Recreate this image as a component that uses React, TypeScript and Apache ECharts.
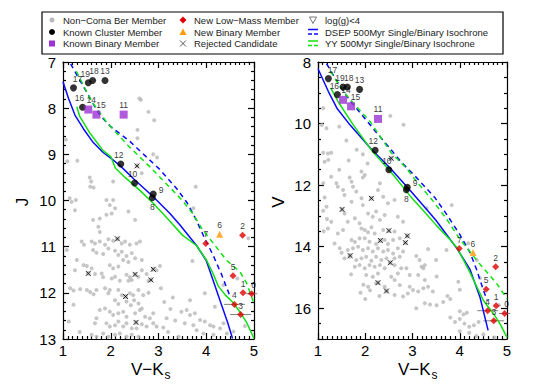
import { useEffect, useRef } from 'react';
import * as echarts from 'echarts';

// ---------- data ----------
const knownIds = ['17', '19', '18', '13', '16', '12', '10', '9', '8'];
const knownVK = [1.22, 1.53, 1.62, 1.88, 1.41, 2.21, 2.5, 2.89, 2.87];
const knownJ = [7.56, 7.45, 7.4, 7.4, 7.98, 9.21, 9.62, 9.86, 9.94];
const knownV = [8.54, 8.81, 8.81, 8.89, 9.06, 10.87, 11.5, 12.07, 12.15];

const binIds = ['14', '15', '11'];
const binVK = [1.53, 1.7, 2.27];
const binJ = [8.03, 8.14, 8.14];
const binV = [9.23, 9.44, 9.85];

const newIds = ['7', '2', '5', '1', '0', '4', '3'];
const newVK = [3.99, 4.76, 4.56, 4.77, 4.95, 4.59, 4.72];
const newJ = [10.93, 10.75, 11.63, 12.0, 12.02, 12.25, 12.47];
const newV = [14.06, 14.65, 15.38, 15.92, 16.17, 16.08, 16.41];
const newErrVK = [0, 0, 0, 0, 0.12, 0.22, 0.22];

const newBinIds = ['6'];
const newBinVK = [4.28];
const newBinJ = [10.73];
const newBinV = [14.19];

const rejectedLeft = [
  [2.55, 9.25], [2.14, 10.83], [1.53, 11.58], [2.51, 11.6], [2.89, 11.49], [2.84, 11.72], [2.31, 12.08], [2.53, 12.64],
];
const rejectedRight = [
  [2.55, 11.13], [2.13, 12.43], [1.51, 12.79], [2.5, 13.48], [2.89, 13.65], [2.32, 13.8], [2.85, 13.87],
  [1.68, 14.29], [2.53, 14.52], [2.27, 15.17], [2.45, 15.44],
];

const grayLeft = [
  [2.6, 7.79], [2.63, 7.82], [2.79, 8.08], [2.91, 8.26], [2.56, 8.47], [2.56, 8.65], [2.89, 9.0], [2.97, 9.07], [2.65, 9.41], [3.78, 9.7], [3.73, 10.17],
  [1.06, 8.68], [1.09, 9.15], [1.3, 9.14], [1.14, 9.95], [1.27, 9.99], [1.56, 9.5],
  [1.59, 9.59], [1.57, 9.7], [1.64, 9.72], [2.05, 9.59],
  [1.18, 10.03], [1.25, 10.21], [1.91, 9.99], [1.98, 10.1], [2.05, 9.99], [2.09, 10.17], [2.02, 10.28], [1.91, 10.31],
  [1.63, 10.42], [1.77, 10.39], [2.37, 10.24], [2.51, 10.42], [1.74, 10.57], [1.77, 10.68],
  [1.39, 10.89], [1.44, 10.96], [1.6, 10.89], [1.67, 10.93], [1.77, 10.89], [1.88, 10.96], [1.95, 10.84], [2.05, 10.87],
  [2.23, 10.93], [2.3, 10.89], [2.4, 10.96], [2.54, 10.93], [2.61, 10.89],
  [1.08, 11.07], [1.63, 11.07], [1.7, 11.13], [1.84, 11.16], [1.95, 11.04], [2.09, 11.09],
  [2.16, 11.18], [2.23, 11.11], [2.33, 11.2], [2.44, 11.14], [2.26, 11.29], [2.37, 11.33], [2.51, 11.25], [2.65, 11.29],
  [1.29, 11.29], [1.25, 11.51], [1.43, 11.4], [1.5, 11.42], [1.6, 11.47],
  [1.98, 11.4], [2.05, 11.47], [2.16, 11.43], [1.67, 11.59], [1.81, 11.58], [1.84, 11.66],
  [2.02, 11.69], [2.09, 11.65], [2.19, 11.74], [2.33, 11.61], [2.4, 11.66], [2.37, 11.74], [2.44, 11.72], [2.58, 11.65],
  [2.65, 11.51], [2.75, 11.59], [2.79, 11.74], [2.96, 11.51], [3.03, 11.42],
  [1.15, 11.9], [1.22, 11.95], [1.36, 11.92], [1.5, 11.94], [1.57, 11.98], [1.64, 12.03], [1.7, 11.94],
  [1.88, 11.9], [1.95, 12.01], [1.98, 11.94], [2.16, 11.94], [2.23, 12.05], [2.4, 12.01], [2.47, 12.05], [2.58, 11.94], [2.68, 12.05], [2.79, 12.0],
  [2.09, 12.16], [2.16, 12.24], [2.33, 12.19], [2.42, 12.27], [2.49, 12.16], [2.58, 12.23], [2.65, 12.34], [1.22, 12.26],
  [1.77, 12.37], [1.88, 12.34], [1.98, 12.41], [2.05, 12.48], [2.16, 12.44], [2.26, 12.41], [2.33, 12.52],
  [2.51, 12.44], [2.61, 12.37], [2.72, 12.52], [2.82, 12.55], [2.89, 12.44], [1.7, 12.55], [1.67, 12.66],
  [1.91, 12.66], [1.98, 12.73], [2.09, 12.7], [2.16, 12.62], [2.26, 12.73], [2.33, 12.66], [2.44, 12.77],
  [2.54, 12.77], [2.65, 12.68], [2.75, 12.73], [2.89, 12.66], [2.96, 12.73],
  [1.6, 12.91], [1.7, 12.95], [1.84, 12.88], [1.95, 12.95], [2.09, 12.91], [2.19, 12.88], [2.33, 12.95], [2.44, 12.91], [2.58, 12.95],
  [3.05, 11.9], [3.12, 12.2], [3.25, 12.35], [3.35, 12.6], [3.2, 12.85], [3.42, 12.95], [3.1, 12.75], [3.3, 12.1], [3.17, 12.55],
  [4.88, 10.82], [3.71, 11.31], [4.65, 11.69], [4.36, 11.83], [3.66, 12.16], [3.97, 12.01],
  [3.48, 12.41], [3.59, 12.37], [3.66, 12.48], [3.76, 12.44], [3.87, 12.59], [3.97, 12.62], [4.08, 12.7], [4.15, 12.73], [4.29, 12.77],
  [4.43, 12.88], [4.57, 12.84], [3.55, 12.66], [3.73, 12.7], [3.8, 12.81], [3.94, 12.88], [4.15, 12.91], [4.36, 12.66], [4.81, 12.72], [4.18, 12.3],
  [1.12, 12.62], [1.35, 12.85],
];

const grayRight = [
  [2.53, 9.75], [2.81, 10.04], [1.11, 9.5], [1.08, 10.05], [1.18, 10.15], [1.45, 10.1], [1.6, 10.55], [1.82, 10.85], [1.95, 11.0], [2.05, 11.3], [1.65, 11.2], [1.45, 11.5],
  [1.11, 10.95], [1.22, 11.18], [1.11, 11.94], [1.14, 12.4], [1.18, 12.7], [1.19, 13.1],
  [1.21, 10.97], [1.28, 10.95], [1.14, 11.24],
  [1.92, 11.56], [1.99, 11.67], [1.95, 11.75], [1.67, 11.75], [1.71, 11.89], [1.28, 11.73], [1.39, 11.94], [1.42, 12.05],
  [1.53, 12.16], [1.56, 12.32], [1.74, 12.05], [1.81, 12.21], [2.31, 11.94], [2.27, 12.16],
  [1.92, 12.43], [1.71, 12.54], [1.95, 12.65], [1.11, 12.83],
  [2.38, 12.38], [2.48, 12.59], [2.62, 12.48], [1.28, 13.19], [1.21, 13.41],
  [1.56, 12.92], [1.63, 13.19], [1.78, 13.08], [1.88, 13.24],
  [2.06, 12.92], [2.16, 13.03], [2.23, 12.86], [2.31, 13.13], [2.41, 12.97], [2.69, 13.03], [2.8, 13.19],
  [1.42, 13.57], [1.53, 13.46],
  [1.92, 13.41], [1.99, 13.46], [2.06, 13.53], [2.13, 13.37], [2.2, 13.57], [2.38, 13.46], [2.62, 13.51],
  [1.71, 13.78], [1.78, 13.85], [1.88, 13.73], [1.99, 13.73], [2.09, 13.84], [2.23, 13.91], [2.41, 13.78], [2.48, 13.91], [2.59, 13.78], [2.73, 13.73],
  [1.46, 14.05], [1.63, 14.11], [1.74, 14.05], [1.85, 14.0], [1.95, 14.11], [2.06, 14.05], [2.16, 14.16], [2.27, 14.05], [2.38, 14.16],
  [2.48, 14.11], [2.59, 14.22], [2.69, 14.05], [2.8, 14.16], [3.33, 14.08],
  [1.56, 14.38], [1.67, 14.33], [1.81, 14.43], [1.92, 14.38], [2.02, 14.33], [2.13, 14.46], [2.23, 14.33], [2.34, 14.43], [2.45, 14.38], [2.62, 14.38], [2.73, 14.33],
  [3.08, 14.3], [3.15, 14.43],
  [1.78, 14.65], [1.88, 14.6], [1.99, 14.7], [2.09, 14.6], [2.2, 14.65], [2.31, 14.6], [2.41, 14.7], [2.62, 14.6], [2.76, 14.7], [2.87, 14.7],
  [3.19, 14.65], [3.26, 14.6],
  [2.02, 14.92], [2.16, 14.98], [2.27, 14.87], [2.55, 14.98], [2.69, 14.87], [2.94, 14.92], [3.12, 14.92], [3.26, 15.08],
  [2.06, 15.3], [2.23, 15.19], [2.41, 15.3], [2.62, 15.08], [2.73, 15.25],
  [2.94, 15.3], [3.01, 15.41], [3.12, 15.46], [3.33, 15.3], [3.43, 15.46],
  [2.62, 15.57], [2.8, 15.62], [2.9, 15.52], [3.26, 15.84], [3.08, 16.0], [3.5, 14.43],
  [3.83, 12.65], [3.3, 12.75], [4.18, 13.89], [3.72, 14.11], [3.23, 14.7], [4.36, 14.43], [3.51, 14.97], [3.23, 15.35], [3.97, 15.14],
  [4.0, 15.4], [3.74, 15.6], [3.8, 15.7], [3.65, 15.8], [3.51, 15.9],
  [4.0, 16.1], [4.08, 16.2], [4.15, 16.15], [3.8, 16.3], [3.9, 16.45], [4.0, 16.35], [4.1, 16.5], [4.2, 16.6], [4.3, 16.55], [4.4, 16.45],
  [4.0, 16.75], [4.2, 16.8], [4.35, 16.9], [4.5, 16.85], [4.73, 16.95], [3.37, 15.88], [4.43, 15.02], [4.83, 15.9],
  [1.12, 13.5], [1.35, 13.9], [1.5, 14.2], [1.7, 14.9], [1.9, 15.5], [2.3, 15.6], [2.0, 15.7], [1.96, 15.24], [2.1, 15.42],
];

// isochrones [V-Ks, mag]
const dsepSingleJ = [
  [1.0, 7.43], [1.12, 7.8], [1.25, 8.15], [1.43, 8.45], [1.63, 8.74], [1.84, 8.96], [2.0, 9.08], [2.2, 9.25], [2.5, 9.55],
  [2.89, 9.92], [3.24, 10.28], [3.45, 10.53], [3.8, 10.98], [4.0, 11.3], [4.2, 11.9], [4.35, 12.35], [4.45, 12.65], [4.55, 12.99],
];
const yySingleJ = [
  [1.29, 7.97], [1.35, 8.18], [1.57, 8.55], [1.84, 8.92], [2.0, 9.05], [2.1, 9.3], [2.3, 9.5], [2.61, 9.78], [2.9, 10.07],
  [3.24, 10.45], [3.5, 10.75], [3.8, 10.98], [4.01, 11.3], [4.15, 11.6], [4.25, 11.85], [4.4, 12.05], [4.55, 12.2],
  [4.71, 12.42], [4.85, 12.65], [5.0, 12.99],
];
const dsepBinaryJ = [
  [1.16, 7.04], [1.3, 7.3], [1.49, 7.64], [1.63, 7.9], [1.77, 8.15], [2.0, 8.4], [2.4, 8.72], [3.03, 9.33], [3.38, 9.74],
  [3.6, 10.05], [3.78, 10.4], [3.95, 10.78], [4.15, 11.2], [4.32, 11.6], [4.5, 12.08],
];
const yyBinaryJ = [
  [1.28, 7.2], [1.45, 7.55], [1.6, 7.85], [1.91, 8.3], [2.4, 8.85], [2.8, 9.25], [3.24, 9.72], [3.5, 10.0], [3.73, 10.3],
  [3.9, 10.6], [4.15, 10.93], [4.43, 11.3], [4.71, 11.55], [4.85, 11.8], [5.0, 12.23],
];
const dsepSingleV = [
  [1.0, 8.22], [1.22, 8.96], [1.4, 9.5], [1.68, 10.05], [2.14, 10.85], [2.53, 11.45], [2.91, 12.1], [3.26, 12.72],
  [3.5, 13.15], [3.79, 13.75], [3.95, 14.08], [4.22, 14.75], [4.43, 15.65], [4.6, 16.72],
];
const yySingleV = [
  [1.27, 8.85], [1.43, 9.3], [1.75, 10.05], [2.14, 10.88], [2.53, 11.55], [2.95, 12.35], [3.26, 12.88], [3.5, 13.3],
  [3.8, 13.78], [3.95, 14.05], [4.22, 14.85], [4.5, 15.75], [4.71, 16.17], [4.85, 16.5], [5.0, 16.95],
];
const dsepBinaryV = [
  [1.18, 8.05], [1.4, 8.62], [1.55, 8.98], [1.7, 9.3], [2.0, 9.85], [2.24, 10.3], [2.52, 10.8], [2.76, 11.25], [3.05, 11.7],
  [3.26, 12.05], [3.47, 12.4], [3.7, 12.9], [4.0, 13.6], [4.22, 14.2], [4.36, 14.76], [4.5, 15.41], [4.58, 15.75],
];
const yyBinaryV = [
  [1.26, 8.3], [1.45, 8.75], [1.61, 9.1], [2.1, 9.93], [2.55, 10.95], [2.87, 11.45], [3.12, 11.95], [3.4, 12.45],
  [3.72, 13.1], [4.0, 13.75], [4.39, 14.5], [4.78, 15.19], [5.0, 15.7],
];

const xTicks = { min: 1, max: 5, interval: 1 };
const jTicks = { min: 7, max: 13, interval: 1 };
const vTicks = { min: 8, max: 17, interval: 2 };

const legendItems = [
  'Non\u2212Coma Ber Member', 'Known Cluster Member', 'Known Binary Member',
  'New Low\u2212Mass Member', 'New Binary Member', 'Rejected Candidate',
  'log(g)<4', 'DSEP 500Myr Single/Binary Isochrone', 'YY 500Myr Single/Binary Isochrone',
];

// ---------- styling ----------
const FONT = '"Liberation Sans", Arial, Helvetica, sans-serif';
const BLUE = '#0a0aff';
const GREEN = '#11e011';
const GRAY = '#b8b8b8';
const PURPLE = '#9b32d2';
const RED = '#e00000';
const ORANGE = '#ff9a00';
const XPATH = 'path://M0,0L10,10M10,0L0,10';

const labelPlace: Record<string, { position: string; offset: number[] }> = {
  '17': { position: 'top', offset: [4, 0] },
  '19': { position: 'top', offset: [-3, 0] },
  '18': { position: 'top', offset: [1.5, 0] },
  '16': { position: 'top', offset: [-3, 0] },
  '14': { position: 'top', offset: [3, 0] },
  '15': { position: 'top', offset: [4.5, 0] },
  '12': { position: 'top', offset: [-2, 0] },
  '10': { position: 'top', offset: [-2, 0] },
  '9': { position: 'right', offset: [1, -4] },
  '8': { position: 'bottom', offset: [0, 0] },
  '0': { position: 'top', offset: [2, 0] },
};

function pts(ids: string[], xs: number[], ys: number[]) {
  return ids.map((id, i) => {
    const lp = labelPlace[id] || { position: 'top', offset: [0, 0] };
    return { name: id, value: [xs[i], ys[i]], label: { position: lp.position, offset: lp.offset } };
  });
}

const numLabel = { show: true, formatter: '{b}', fontSize: 8.5, color: '#000', fontFamily: FONT, distance: 1 };

function axis(g: number, pos: string, t: { min: number; max: number; interval: number }, minor: number, showLabel: boolean, inverse: boolean, hideMax: boolean) {
  return {
    type: 'value', gridIndex: g, position: pos, min: t.min, max: t.max, interval: t.interval, inverse,
    axisLine: { show: true, onZero: false, lineStyle: { color: '#000', width: 1.2 } },
    axisTick: { show: true, inside: true, length: 6, lineStyle: { color: '#000', width: 1.2 } },
    minorTick: { show: true, splitNumber: minor, length: 3, lineStyle: { color: '#000', width: 1.2 } },
    splitLine: { show: false }, minorSplitLine: { show: false },
    axisLabel: { show: showLabel, fontSize: 15, color: '#000', fontFamily: FONT, margin: pos === 'left' ? 7 : 4, showMaxLabel: !hideMax, showMinLabel: true },
  };
}

function panel(p: number, gray: number[][], rej: number[][], kY: number[], bY: number[], nY: number[], nbY: number[], iso: number[][][]) {
  const ax = { xAxisIndex: p * 2, yAxisIndex: p * 2 };
  const lines = iso.map((d, i) => ({
    type: 'line', ...ax, data: d, showSymbol: false, symbol: 'none', z: 3, silent: true,
    lineStyle: { color: i % 2 === 0 ? BLUE : GREEN, width: 1.5, type: i < 2 ? 'solid' : [5, 4] },
  }));
  return [
    { type: 'scatter', ...ax, data: gray, symbol: 'circle', symbolSize: 4, itemStyle: { color: GRAY }, z: 2, silent: true },
    { type: 'scatter', ...ax, data: rej, symbol: 'circle', symbolSize: 5, itemStyle: { color: GRAY }, z: 2, silent: true },
    { type: 'scatter', ...ax, data: rej, symbol: XPATH, symbolSize: 5, itemStyle: { color: 'none', borderColor: '#000', borderWidth: 1 }, z: 2, silent: true },
    ...lines,
    {
      type: 'custom', ...ax, z: 3, silent: true,
      data: newVK.map((x, i) => [x, nY[i], newErrVK[i]]).filter((d) => d[2] > 0),
      renderItem: (_params: any, api: any) => {
        const x = api.value(0), y = api.value(1), e = api.value(2);
        const a = api.coord([x - e, y]);
        const b = api.coord([x + e, y]);
        return { type: 'line', shape: { x1: a[0], y1: a[1], x2: b[0], y2: b[1] }, style: { stroke: '#808080', lineWidth: 1 } };
      },
    },
    { type: 'scatter', ...ax, data: pts(knownIds, knownVK, kY), symbol: 'circle', symbolSize: 7, itemStyle: { color: '#000' }, label: numLabel, z: 4 },
    { type: 'scatter', ...ax, data: pts(binIds, binVK, bY), symbol: 'rect', symbolSize: 8, itemStyle: { color: PURPLE }, label: numLabel, z: 4 },
    { type: 'scatter', ...ax, data: pts(newIds, newVK, nY), symbol: 'diamond', symbolSize: 7, itemStyle: { color: RED }, label: numLabel, z: 4 },
    { type: 'scatter', ...ax, data: pts(newBinIds, newBinVK, nbY), symbol: 'triangle', symbolSize: 7, itemStyle: { color: ORANGE }, label: numLabel, z: 4 },
  ];
}

function legendGraphics() {
  const rows = [20, 32, 43.5];
  const symX = [52, 183, 313];
  const txtX = [63, 194, 325];
  const els: any[] = [
    { type: 'rect', shape: { x: 42, y: 12, width: 461, height: 42 }, style: { fill: 'none', stroke: '#000', lineWidth: 1.2 } },
  ];
  legendItems.forEach((t, i) => {
    const c = Math.floor(i / 3), r = i % 3;
    els.push({ type: 'text', x: txtX[c], y: rows[r], style: { text: t, fontSize: 9.5, fontFamily: FONT, fill: '#222', align: 'left', verticalAlign: 'middle' } });
  });
  const [a, b, c] = symX;
  const [r0, r1, r2] = rows;
  els.push(
    { type: 'circle', shape: { cx: a, cy: r0, r: 2.5 }, style: { fill: GRAY } },
    { type: 'circle', shape: { cx: a, cy: r1, r: 3 }, style: { fill: '#000' } },
    { type: 'rect', shape: { x: a - 3, y: r2 - 3, width: 6, height: 6 }, style: { fill: PURPLE } },
    { type: 'polygon', shape: { points: [[b, r0 - 3.5], [b + 3.5, r0], [b, r0 + 3.5], [b - 3.5, r0]] }, style: { fill: RED } },
    { type: 'polygon', shape: { points: [[b, r1 - 3.5], [b + 3.5, r1 + 3], [b - 3.5, r1 + 3]] }, style: { fill: ORANGE } },
    { type: 'line', shape: { x1: b - 3, y1: r2 - 3, x2: b + 3, y2: r2 + 3 }, style: { stroke: '#555', lineWidth: 1 } },
    { type: 'line', shape: { x1: b + 3, y1: r2 - 3, x2: b - 3, y2: r2 + 3 }, style: { stroke: '#555', lineWidth: 1 } },
    { type: 'polygon', shape: { points: [[c - 3.5, r0 - 3], [c + 3.5, r0 - 3], [c, r0 + 3.5]] }, style: { fill: 'none', stroke: '#777', lineWidth: 1 } },
    { type: 'line', shape: { x1: c - 5, y1: r1 - 2.5, x2: c + 5, y2: r1 - 2.5 }, style: { stroke: BLUE, lineWidth: 1.5 } },
    { type: 'line', shape: { x1: c - 5, y1: r1 + 2, x2: c + 5, y2: r1 + 2 }, style: { stroke: BLUE, lineWidth: 1.5, lineDash: [4, 2] } },
    { type: 'line', shape: { x1: c - 5, y1: r2 - 2.5, x2: c + 5, y2: r2 - 2.5 }, style: { stroke: GREEN, lineWidth: 1.5 } },
    { type: 'line', shape: { x1: c - 5, y1: r2 + 2, x2: c + 5, y2: r2 + 2 }, style: { stroke: GREEN, lineWidth: 1.5, lineDash: [4, 2] } },
  );
  return els;
}

function titleGraphics() {
  const t = (x: number, y: number, text: string, size: number, rot = 0) => ({
    type: 'text', x, y, rotation: rot,
    style: { text, fontSize: size, fontFamily: FONT, fill: '#000', align: rot ? 'center' : 'left', verticalAlign: 'middle' },
  });
  return [
    t(131, 369, 'V\u2212K', 17), t(164.5, 375, 's', 12),
    t(398, 369, 'V\u2212K', 17), t(431.5, 375, 's', 12),
    t(22, 202, 'J', 17, Math.PI / 2),
    t(278, 202, 'V', 17, Math.PI / 2),
  ];
}

function buildOption() {
  return {
    animation: false,
    grid: [
      { left: 63, top: 62, width: 191, height: 277, outerBoundsMode: 'none', containLabel: false },
      { left: 318, top: 62, width: 189, height: 277, outerBoundsMode: 'none', containLabel: false },
    ],
    xAxis: [
      axis(0, 'bottom', xTicks, 10, true, false, false),
      axis(0, 'top', xTicks, 10, false, false, false),
      axis(1, 'bottom', xTicks, 10, true, false, false),
      axis(1, 'top', xTicks, 10, false, false, false),
    ],
    yAxis: [
      axis(0, 'left', jTicks, 5, true, true, false),
      axis(0, 'right', jTicks, 5, false, true, false),
      axis(1, 'left', vTicks, 4, true, true, true),
      axis(1, 'right', vTicks, 4, false, true, true),
    ],
    series: [
      ...panel(0, grayLeft, rejectedLeft, knownJ, binJ, newJ, newBinJ, [dsepSingleJ, yySingleJ, dsepBinaryJ, yyBinaryJ]),
      ...panel(1, grayRight, rejectedRight, knownV, binV, newV, newBinV, [dsepSingleV, yySingleV, dsepBinaryV, yyBinaryV]),
    ],
    graphic: [...legendGraphics(), ...titleGraphics()],
  };
}

export default function App() {
  const ref = useRef<HTMLDivElement>(null);
  useEffect(() => {
    const chart = echarts.init(ref.current!, null, { renderer: 'svg' });
    chart.setOption(buildOption() as any);
    return () => chart.dispose();
  }, []);
  return <div ref={ref} style={{ position: 'absolute', left: 0, top: 0, width: 540, height: 390, background: '#fff' }} />;
}
